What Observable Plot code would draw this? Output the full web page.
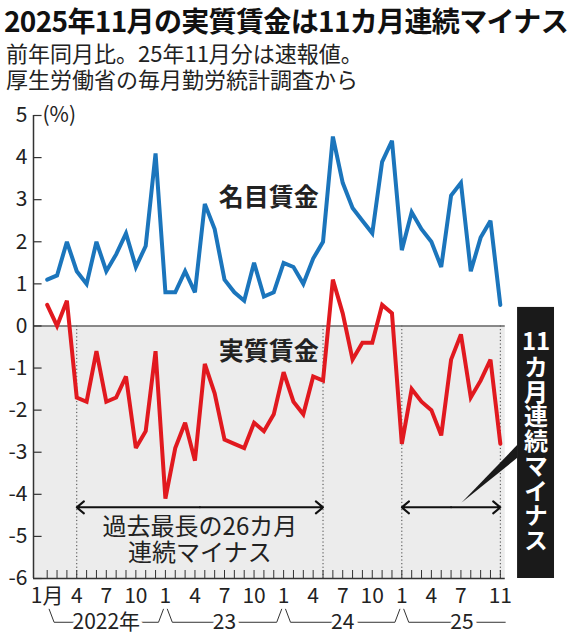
<!DOCTYPE html>
<html>
<head>
<meta charset="utf-8">
<script src="https://cdn.jsdelivr.net/npm/d3@7"></script>
<script src="https://cdn.jsdelivr.net/npm/@observablehq/plot@0.6"></script>
<style>
  html, body { margin: 0; padding: 0; background: #fff; }
  #head { position: relative; height: 100px; width: 568px; }
  #title { position: absolute; left: 4px; top: 2px; font: bold 28px/36px "Noto Sans CJK JP", sans-serif; color: #111; white-space: nowrap; letter-spacing: -0.65px; }
  #sub { position: absolute; left: 6px; top: 40px; font: 22px/25.5px "Noto Sans CJK JP", sans-serif; color: #222; white-space: nowrap; }
  #chart svg { display: block; overflow: visible; }
</style>
</head>
<body>
<div id="head">
  <div id="title">2025年11月の実質賃金は11カ月連続マイナス</div>
  <div id="sub">前年同月比。25年11月分は速報値。<br>厚生労働省の毎月勤労統計調査から</div>
</div>
<div id="chart"></div>
<script>
// ---- data (Jan 2022 – Nov 2025, year-on-year %) ----
const nominal = [
  1.1, 1.2, 2.0, 1.3, 1.0, 2.0, 1.3, 1.7, 2.2, 1.4, 1.9, 4.1,
  0.8, 0.8, 1.3, 0.8, 2.9, 2.3, 1.1, 0.8, 0.6, 1.5, 0.7, 0.8,
  1.5, 1.4, 1.0, 1.6, 2.0, 4.5, 3.4, 2.8, 2.5, 2.2, 3.9, 4.4,
  1.8, 2.7, 2.3, 2.0, 1.4, 3.1, 3.4, 1.3, 2.1, 2.5, 0.5
];
const real = [
   0.5,  0.0,  0.6, -1.7, -1.8, -0.6, -1.8, -1.7, -1.2, -2.9, -2.5, -0.6,
  -4.1, -2.9, -2.3, -3.2, -0.9, -1.6, -2.7, -2.8, -2.9, -2.3, -2.5, -2.1,
  -1.1, -1.8, -2.1, -1.2, -1.3,  1.1,  0.3, -0.8, -0.4, -0.4,  0.5,  0.3,
  -2.8, -1.5, -1.8, -2.0, -2.6, -0.8, -0.2, -1.7, -1.3, -0.8, -2.8
];
const tickMonths = [0, 3, 6, 9, 12, 15, 18, 21, 24, 27, 30, 33, 36, 39, 42, 46];
const tickLabels = ["1月", "4", "7", "10", "1", "4", "7", "10", "1", "4", "7", "10", "1", "4", "7", "11"];
const yearLabels = ["2022年", "23", "24", "25"];
const yTicks = [5, 4, 3, 2, 1, 0, -1, -2, -3, -4, -5, -6];
// negative streaks: [start month index, end month index]
const streaks = [[3, 28], [36, 46]];
const boxHead = "11";
const boxBody = "カ月連続マイナス";

const nomData = nominal.map((v, i) => ({i, v}));
const realData = real.map((v, i) => ({i, v}));
const nMonths = nominal.length;

const X0 = -1.39;      // y-axis position
const XR = 46.5;       // right edge of plot frame
const narrow = "'Liberation Sans Narrow', 'Arial Narrow', 'Noto Sans CJK JP', sans-serif";
const jp = "'Noto Sans CJK JP', sans-serif";

// year brackets
const brackets = [];
yearLabels.forEach((lab, k) => {
  const s = 12 * k;
  const pts = [{x: s + 0.2, y: -6.73}, {x: s + 0.7, y: -7.04}];
  if (k < 3) { pts.push({x: s + 11.3, y: -7.04}, {x: s + 11.8, y: -6.73}); }
  else { pts.push({x: XR, y: -7.04}); }
  pts.forEach(p => brackets.push({...p, k}));
});
const yearText = yearLabels.map((t, k) => ({t, x: k < 3 ? 12 * k + 6 : 42.1}));

const arrowSegs = [];
streaks.forEach(([a, b]) => {
  const c = (a + b) / 2;
  arrowSegs.push({x1: c, x2: a}, {x1: c, x2: b});
});

const chart = Plot.plot({
  width: 568,
  height: 540,
  marginLeft: 33,
  marginRight: 0,
  marginTop: 15,
  marginBottom: 62,
  x: {domain: [X0, 52.92], axis: null},
  y: {domain: [-6, 5], axis: null},
  style: {fontFamily: jp, background: "white", overflow: "visible"},
  marks: [
    // gray negative region
    Plot.rect([0], {x1: () => X0, x2: () => XR, y1: () => 0, y2: () => -6, fill: "#ececec"}),
    // dotted streak borders
    Plot.ruleX(streaks.flat(), {y1: 0, y2: -6, stroke: "#444", strokeWidth: 1, strokeDasharray: "1.2,2.4"}),
    // zero line & axes
    Plot.ruleY([0], {x1: X0, x2: XR, stroke: "#666", strokeWidth: 1.5}),
    Plot.ruleY([-6], {x1: X0, x2: XR, stroke: "#333", strokeWidth: 1.5}),
    Plot.ruleX([X0], {y1: -6, y2: 5, stroke: "#333", strokeWidth: 1.5}),
    Plot.link(yTicks, {x1: () => X0, x2: () => X0 + 0.82, y1: d => d, y2: d => d, stroke: "#333", strokeWidth: 1.2}),
    Plot.text(yTicks, {x: () => X0, y: d => d, text: d => String(d), dx: -6, textAnchor: "end", fontSize: 21, fontFamily: narrow, fill: "#222"}),
    Plot.text(["(%)"], {x: () => X0, y: () => 5, text: d => d, dx: 9, textAnchor: "start", fontSize: 21, fontFamily: narrow, fill: "#222"}),
    // monthly ticks
    Plot.ruleX(d3.range(nMonths), {y1: -6, y2: -5.81, stroke: "#333", strokeWidth: 1}),
    // month labels
    Plot.text(tickMonths, {x: d => d, y: () => -6, text: (d, i) => tickLabels[i], dy: 18, fontSize: 21, fontFamily: narrow, fill: "#222"}),
    // year brackets & labels
    Plot.line(brackets, {x: "x", y: "y", z: "k", stroke: "#333", strokeWidth: 1}),
    Plot.text(yearText, {x: "x", y: () => -7.04, text: "t", fontSize: 21, fontFamily: narrow, fill: "#222", stroke: "white", strokeWidth: 8}),
    // data lines
    Plot.line(nomData, {x: "i", y: "v", stroke: "#1b75bc", strokeWidth: 4, strokeLinejoin: "miter", strokeMiterlimit: 3}),
    Plot.line(realData, {x: "i", y: "v", stroke: "#e1191f", strokeWidth: 4, strokeLinejoin: "miter", strokeMiterlimit: 3}),
    // series labels
    Plot.text(["名目賃金"], {x: () => 22.5, y: () => 3.05, text: d => d, fontSize: 25, fontWeight: "bold", fill: "#222"}),
    Plot.text(["実質賃金"], {x: () => 22.5, y: () => -0.63, text: d => d, fontSize: 25, fontWeight: "bold", fill: "#222"}),
    // streak arrows
    Plot.arrow(arrowSegs, {x1: "x1", x2: "x2", y1: () => -4.31, y2: () => -4.31, stroke: "#111", strokeWidth: 2, headAngle: 80, headLength: 7}),
    Plot.text(["過去最長の26カ月\n連続マイナス"], {x: () => 15.5, y: () => -5.07, text: d => d, fontSize: 24, lineHeight: 1.1, fill: "#222"}),
    // callout box
    Plot.areaY([{x: 42.1, y1: -4.21, y2: -4.21}, {x: 47.8, y1: -2.83, y2: -3.14}], {x: "x", y1: "y1", y2: "y2", fill: "#1a1a1a"}),
    Plot.rect([0], {x1: () => 47.75, x2: () => 51.5, y1: () => 0.44, y2: () => -6.0, fill: "#1a1a1a"}),
    Plot.text([boxHead], {x: () => 49.63, y: () => -0.39, text: d => d, fontSize: 24, fontWeight: "bold", fill: "white"}),
    Plot.text([boxBody], {x: () => 49.63, y: () => -0.28, text: d => d, fontSize: 24, fontWeight: "bold", fill: "white", lineAnchor: "top", textAnchor: "start"})
  ]
});
// set the callout body in vertical Japanese writing
d3.select(chart).selectAll("text").filter(function () { return this.textContent === boxBody; })
  .attr("writing-mode", "vertical-rl")
  .attr("dy", null)
  .attr("text-anchor", "start")
  .style("letter-spacing", "0.75px");
document.getElementById("chart").appendChild(chart);
</script>
</body>
</html>
